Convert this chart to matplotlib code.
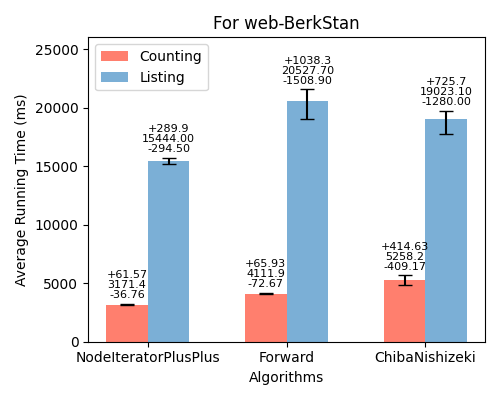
import matplotlib.pyplot as plt
import numpy as np

algorithms = ['NodeIteratorPlusPlus', 'Forward', 'ChibaNishizeki']
counting = [3171.4, 4111.9, 5258.2]
counting_up = [61.57, 65.93, 414.63]
counting_down = [36.76, 72.67, 409.17]
counting_labels = [('+61.57', '3171.4', '-36.76'), ('+65.93', '4111.9', '-72.67'), ('+414.63', '5258.2', '-409.17')]
listing = [15444.00, 20527.70, 19023.10]
listing_up = [289.9, 1038.3, 725.7]
listing_down = [294.50, 1508.90, 1280.00]
listing_labels = [('+289.9', '15444.00', '-294.50'), ('+1038.3', '20527.70', '-1508.90'), ('+725.7', '19023.10', '-1280.00')]

x = np.arange(len(algorithms))
w = 0.3
fig, ax = plt.subplots(figsize=(5, 4), dpi=100)
ax.bar(x - w / 2, counting, w, yerr=[counting_down, counting_up], capsize=5,
       color='#ff7f6e', label='Counting')
ax.bar(x + w / 2, listing, w, yerr=[listing_down, listing_up], capsize=5,
       color='#7bafd6', label='Listing')

for i in range(len(algorithms)):
    ax.text(x[i] - w / 2, counting[i] + counting_up[i] + 300, '\n'.join(counting_labels[i]),
            ha='center', va='bottom', fontsize=8, linespacing=1.0)
    ax.text(x[i] + w / 2, listing[i] + listing_up[i] + 300, '\n'.join(listing_labels[i]),
            ha='center', va='bottom', fontsize=8, linespacing=1.0)

ax.set_ylim(0, 26000)
ax.set_xticks(x)
ax.set_xticklabels(algorithms)
ax.set_xlabel('Algorithms')
ax.set_ylabel('Average Running Time (ms)')
ax.set_title('For web-BerkStan')
ax.legend(loc='upper left')
fig.tight_layout()
fig.savefig('out.png')
